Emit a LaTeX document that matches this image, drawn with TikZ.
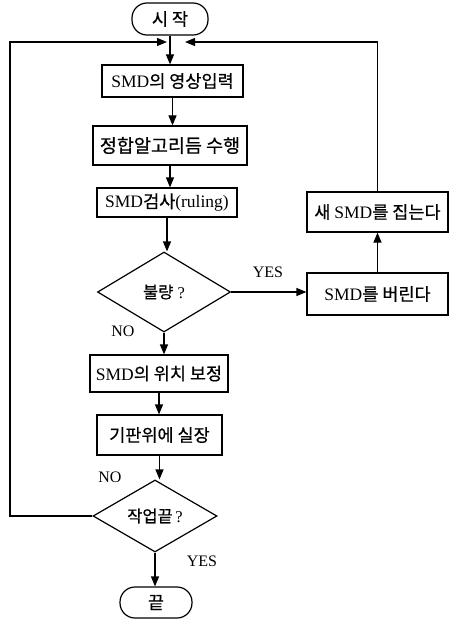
\documentclass[tikz,border=0pt]{standalone}
\usepackage{fontspec}
\setmainfont{Liberation Serif}
\newfontfamily\kr[FakeBold=0.6]{Noto Sans CJK KR}
\usetikzlibrary{shapes.geometric,arrows.meta}
\begin{document}
\begin{tikzpicture}[x=1pt,y=-1pt,
  lw/.style={line width=1.2pt},
  box/.style={draw,lw,rectangle,inner sep=0pt,font=\fontsize{17.5}{17.5}\selectfont},
  term/.style={box,rounded corners=15pt},
  decision/.style={draw,lw,diamond,inner sep=0pt,font=\fontsize{16.5}{16.5}\selectfont},
  arr/.style={lw,-{Triangle[length=10pt,width=8pt]}},
  lbl/.style={inner sep=0pt,font=\fontsize{16}{16}\selectfont}]
\useasboundingbox (0,0) rectangle (452,623);

\node[term,minimum width=76pt,minimum height=32pt] (start) at (170,19) {{\kr 시 작}};
\node[box,minimum width=141pt,minimum height=32pt] (b1) at (172.5,81) {SMD{\kr 의 영상입력}};
\node[box,minimum width=154pt,minimum height=39pt,font=\fontsize{18.5}{18.5}\selectfont] (b2) at (170,145.5) {{\kr 정합알고리듬 수행}};
\node[box,minimum width=140pt,minimum height=29pt] (b3) at (167,202.5) {SMD{\kr 검사}(ruling)};
\node[decision,minimum width=133pt,minimum height=80pt] (d1) at (164,292) {{\kr 불량} ?};
\node[box,minimum width=141pt,minimum height=40pt] (pick) at (377.5,212) {{\kr 새 }SMD{\kr 를 집는다}};
\node[box,minimum width=141pt,minimum height=42pt] (drop) at (377.5,294) {SMD{\kr 를 버린다}};
\node[box,minimum width=138pt,minimum height=37pt] (b4) at (159,373.5) {SMD{\kr 의 위치 보정}};
\node[box,minimum width=125pt,minimum height=40pt] (b5) at (159.5,435) {{\kr 기판위에 실장}};
\node[decision,minimum width=124pt,minimum height=72pt] (d2) at (155,516) {{\kr 작업끝}\,?};
\node[term,minimum width=72pt,minimum height=31pt] (stop) at (156,602.5) {{\kr 끝}};

\node[lbl] (yes1) at (268,272) {YES};
\node[lbl] (no1) at (123,331) {NO};
\node[lbl] (no2) at (110,477) {NO};
\node[lbl] (yes2) at (202,561) {YES};

\coordinate (jl) at (167,42);
\coordinate (jr) at (185,42);
\coordinate (cl) at (10,42);

\draw[arr] (start.south) -- (start.south |- b1.north);
\draw[arr] (b1.south) -- (b1.south |- b2.north);
\draw[arr] (b2.south) -- (b2.south |- b3.north);
\draw[arr] (b3.south) -- (b3.south |- d1.north);
\draw[arr] (d1.south) -- (d1.south |- b4.north);
\draw[arr] (b4.south) -- (b4.south |- b5.north);
\draw[arr] (b5.south) -- (b5.south |- d2.north);
\draw[arr] (d2.south) -- (d2.south |- stop.north);
\draw[arr] (d1.east) -- (d1.east -| drop.west);
\draw[arr] (drop.north) -- (pick.south);
\draw[arr] (pick.north) |- (jr);
\draw[arr] (d2.west) -| (cl) -- (jl);
\end{tikzpicture}
\end{document}
